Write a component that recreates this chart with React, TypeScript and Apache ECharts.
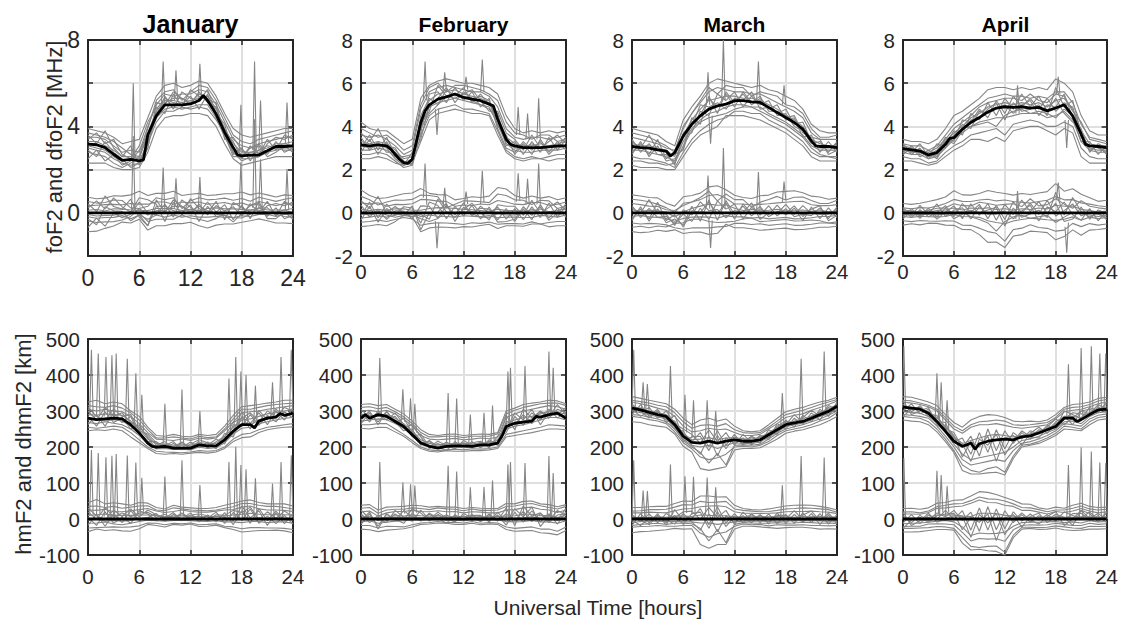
import React, { useEffect, useRef } from 'react';
import * as echarts from 'echarts';

// ---------- tick hours ----------
const HOURS = [0, 1, 2, 3, 4, 5, 6, 7, 8, 9, 10, 11, 12, 13, 14, 15, 16, 17, 18, 19, 20, 21, 22, 23, 24];
const MONTHS = ['January', 'February', 'March', 'April'];

// ---------- foF2 medians [hour, MHz] ----------
const janFoMed = [[0,3.18],[1,3.15],[2,3.02],[3,2.71],[4,2.43],[5,2.47],[6,2.4],[6.5,2.45],[7,3.6],[8,4.5],[9,5.0],[10,5.0],[11,5.0],[12,5.04],[13,5.2],[13.5,5.43],[14,5.2],[15,4.57],[16,3.72],[17,3.02],[17.5,2.68],[18,2.64],[19,2.67],[20,2.68],[21,2.87],[22,3.07],[23,3.07],[24,3.1]];
const febFoMed = [[0,3.14],[1,3.1],[2,3.14],[3,3.1],[3.5,2.94],[4,2.71],[4.5,2.48],[5,2.32],[5.5,2.29],[6,2.48],[6.5,3.33],[7,4.18],[7.5,4.72],[8,5.0],[9,5.26],[10,5.37],[11,5.5],[12,5.34],[13,5.26],[14,5.19],[15,5.03],[15.5,4.95],[16,4.33],[17,3.4],[17.5,3.17],[18,3.1],[19,3.02],[20,3.02],[21,3.02],[22,3.05],[23,3.1],[24,3.1]];
const marFoMed = [[0,3.07],[1,3.02],[2,2.99],[3,2.91],[4,2.86],[4.5,2.63],[5,2.79],[6,3.56],[7,4.1],[8,4.49],[9,4.8],[10,4.95],[11,5.03],[12,5.19],[13,5.19],[14,5.14],[15,5.11],[16,4.88],[17,4.64],[18,4.41],[19,4.18],[20,3.87],[21,3.33],[21.5,3.1],[22,3.07],[23,3.07],[24,3.02]];
const aprFoMed = [[0,2.97],[1,2.91],[2,2.86],[3,2.68],[4,2.79],[5,3.17],[5.5,3.44],[6,3.48],[7,3.87],[8,4.18],[9,4.41],[10,4.67],[11,4.85],[12,4.91],[13,4.88],[14,4.91],[15,4.85],[16,4.88],[17,4.72],[18,4.85],[19,5.0],[20,4.49],[21,3.64],[21.5,3.17],[22,3.1],[23,3.07],[24,3.02]];

// ---------- foF2 individual days (hourly, MHz) ----------
const janFoDays = [
  [3.9,3.8,3.7,3.5,3.2,3.3,3.4,4.4,5.4,5.9,6.0,5.8,5.9,6.1,6.0,5.4,4.6,3.9,3.6,3.5,3.6,3.7,3.8,3.9,3.9],
  [3.5,3.5,3.4,3.1,2.8,2.9,2.8,4.0,5.0,5.5,5.4,5.5,5.5,5.7,5.6,5.0,4.2,3.4,3.1,3.0,3.2,3.3,3.4,3.5,3.5],
  [3.0,2.9,2.8,2.5,2.3,2.2,2.3,3.3,4.4,4.8,4.9,4.8,4.9,5.0,5.0,4.4,3.5,2.8,2.5,2.5,2.6,2.8,2.9,3.0,3.0],
  [2.3,2.3,2.3,2.1,2.0,2.0,2.1,2.8,3.9,4.4,4.5,4.5,4.6,4.6,4.5,4.0,3.2,2.5,2.2,2.3,2.4,2.5,2.6,2.6,2.6],
  [3.3,3.3,3.1,2.9,2.6,2.6,2.5,3.7,4.7,5.2,5.2,5.1,5.2,5.3,5.4,4.8,3.9,3.2,2.8,2.8,2.9,3.0,3.2,3.2,3.3],
  [2.8,2.7,2.6,2.3,2.1,2.3,2.6,3.5,4.6,5.1,5.3,5.3,5.1,5.5,5.3,4.5,3.6,2.8,2.4,2.6,2.9,3.1,3.0,2.9,2.9],
  [3.7,3.6,3.5,3.3,3.0,2.7,2.6,3.9,5.2,5.6,5.7,5.2,5.6,5.9,5.8,5.2,4.4,3.6,3.3,3.2,3.4,3.5,3.6,3.7,3.8],
  [3.1,3.0,2.9,2.6,2.4,2.5,2.4,3.2,4.2,4.7,4.7,4.9,4.8,4.9,4.8,4.3,3.7,3.0,2.7,2.8,2.8,2.9,3.1,3.2,3.1],
  [3.6,3.2,3.8,3.0,2.6,3.1,2.2,3.0,5.1,5.0,5.6,5.3,5.0,5.6,5.1,4.9,3.8,3.3,2.5,3.1,2.7,3.4,2.9,3.6,3.4],
  [2.5,2.9,2.4,2.7,2.2,2.4,2.9,3.6,4.4,5.4,4.8,5.6,5.3,5.2,5.7,4.6,4.1,2.7,3.0,2.4,3.2,2.7,3.3,2.8,3.0],
  [3.4,3.7,3.2,3.4,2.7,2.5,3.1,4.2,4.9,4.6,5.5,4.9,5.7,5.4,5.2,5.1,3.4,3.5,2.9,2.7,2.6,3.2,3.5,3.4,3.6],
  [2.9,2.6,3.3,2.8,2.5,2.1,2.3,3.0,4.8,5.3,5.1,5.0,5.4,4.8,5.5,4.4,3.6,2.6,2.6,3.0,3.1,2.6,2.8,3.1,2.8],
];
const febFoDays = [
  [4.2,3.9,3.8,3.8,3.5,3.2,3.4,5.3,5.9,6.1,6.2,6.1,6.0,6.0,5.9,5.8,5.5,4.5,3.9,3.7,3.8,3.7,3.8,3.7,3.8],
  [3.6,3.5,3.6,3.4,3.1,2.7,2.9,4.8,5.6,5.8,5.9,5.8,5.7,5.6,5.6,5.4,4.9,3.9,3.5,3.4,3.5,3.5,3.4,3.5,3.6],
  [2.7,2.7,2.8,2.7,2.4,2.1,2.2,3.6,4.5,4.8,4.9,5.0,4.8,4.8,4.7,4.6,3.8,2.9,2.6,2.5,2.6,2.5,2.6,2.7,2.7],
  [2.5,2.5,2.6,2.5,2.3,2.2,2.3,3.3,4.3,4.6,4.7,4.8,4.7,4.6,4.6,4.5,3.6,2.8,2.5,2.4,2.5,2.5,2.4,2.5,2.5],
  [3.3,3.2,3.3,3.2,2.9,2.5,2.6,4.3,5.2,5.5,5.6,5.7,5.5,5.4,5.3,5.1,4.5,3.5,3.2,3.1,3.1,3.2,3.1,3.2,3.3],
  [2.9,2.9,3.0,2.9,2.6,2.3,2.5,4.0,4.9,5.1,5.2,5.3,5.2,5.1,5.0,4.9,4.1,3.2,2.9,2.8,2.8,2.9,2.9,2.9,3.0],
  [3.9,3.7,3.5,3.6,3.3,2.9,3.1,5.0,5.8,6.0,5.6,5.9,5.9,5.8,5.7,5.5,5.2,4.2,3.7,3.6,3.4,3.6,3.6,3.3,3.4],
  [3.1,3.0,3.2,3.0,2.5,2.2,2.4,3.9,4.6,5.0,5.4,5.5,5.4,5.2,5.0,4.8,4.3,3.3,3.0,3.0,3.2,3.0,3.1,3.0,3.1],
  [3.5,2.9,3.3,2.8,2.8,2.4,2.2,4.5,5.3,5.0,5.7,5.4,5.8,5.1,5.5,5.0,4.6,3.1,3.3,2.7,3.3,2.8,3.5,2.9,3.4],
  [2.8,3.4,2.7,3.3,2.6,2.6,2.7,3.7,5.5,5.6,5.1,5.8,5.2,5.6,4.9,5.3,4.0,3.6,2.7,3.2,2.7,3.4,2.8,3.3,2.9],
  [3.7,3.3,3.9,3.1,3.0,2.3,2.3,4.1,4.7,5.9,5.4,5.3,5.5,5.7,5.2,4.7,4.7,3.7,3.4,2.9,3.6,3.0,3.3,3.6,3.2],
  [3.0,3.6,2.9,3.5,2.7,2.2,2.8,3.4,5.0,5.3,5.8,5.1,5.6,5.3,5.4,5.2,3.9,3.0,2.8,3.3,2.9,3.3,2.7,3.1,3.5],
];
const marFoDays = [
  [3.9,3.8,3.7,3.6,3.3,3.1,4.3,4.9,5.4,6.0,6.2,6.1,6.0,5.9,5.8,5.9,5.7,5.6,5.4,5.2,4.8,4.1,3.8,3.7,3.7],
  [3.5,3.4,3.3,3.2,3.0,2.9,3.9,4.6,5.1,5.6,5.8,5.7,5.6,5.6,5.5,5.5,5.3,5.1,4.9,4.7,4.4,3.7,3.4,3.4,3.4],
  [2.6,2.5,2.5,2.4,2.3,2.1,2.8,3.4,3.8,4.1,4.3,4.4,4.7,4.7,4.6,4.6,4.3,4.1,3.9,3.6,3.3,2.8,2.6,2.6,2.5],
  [2.2,2.1,2.1,2.1,2.0,2.0,2.6,3.2,3.6,3.8,4.0,4.5,4.5,4.5,4.4,4.3,4.1,3.9,3.7,3.4,3.1,2.6,2.4,2.4,2.4],
  [3.2,3.1,3.1,3.0,2.9,2.6,3.6,4.3,4.8,5.2,5.3,5.4,5.4,5.3,5.3,5.2,5.0,4.8,4.5,4.3,4.0,3.4,3.2,3.1,3.1],
  [2.9,2.9,2.8,2.7,2.6,2.4,3.3,3.9,4.3,4.6,4.7,4.9,5.0,5.0,4.9,4.9,4.6,4.4,4.2,3.9,3.6,3.1,2.9,2.9,2.9],
  [3.7,3.6,3.5,3.3,3.1,2.8,4.0,4.6,5.2,5.8,5.5,5.9,5.8,5.8,5.4,5.6,5.5,5.4,5.0,4.9,4.6,3.9,3.5,3.5,3.6],
  [2.4,2.4,2.3,2.3,2.2,2.3,3.1,3.8,4.2,4.4,4.5,4.6,4.8,4.9,4.9,4.7,4.5,4.3,4.1,3.8,3.5,3.0,2.7,2.6,2.6],
  [3.4,2.8,3.2,2.7,2.7,2.3,3.5,3.7,4.7,4.5,5.5,5.2,5.6,4.9,5.4,5.0,5.2,4.5,4.6,4.0,3.8,3.2,3.3,2.8,3.3],
  [2.7,3.3,2.6,3.1,2.4,2.5,3.0,4.4,4.1,5.4,4.6,5.6,5.1,5.5,5.0,5.3,4.8,5.0,4.3,4.4,3.5,3.6,2.8,3.3,2.8],
  [3.3,3.0,3.6,2.9,2.8,2.2,3.7,4.0,5.0,4.9,5.1,4.8,5.3,5.2,5.6,4.8,4.9,4.6,4.8,4.1,4.2,3.3,3.0,3.0,3.2],
  [2.8,3.2,2.7,3.4,2.5,2.7,2.9,4.2,4.5,5.3,4.9,5.5,4.9,5.6,5.1,5.4,4.7,4.7,4.4,4.5,3.7,3.5,3.4,2.7,2.9],
];
const aprFoDays = [
  [3.4,3.3,3.3,3.2,3.4,3.9,4.5,4.7,5.0,5.3,5.7,5.8,5.8,5.7,5.8,5.7,5.8,5.7,6.2,6.0,5.6,4.5,3.8,3.6,3.6],
  [3.2,3.1,3.1,2.9,3.1,3.6,4.1,4.4,4.7,5.0,5.3,5.4,5.5,5.4,5.4,5.3,5.4,5.3,5.6,5.6,5.1,4.1,3.5,3.4,3.3],
  [2.6,2.5,2.5,2.3,2.4,2.8,3.1,3.3,3.6,3.7,3.8,3.9,3.6,4.1,4.2,4.3,4.2,4.0,4.0,4.2,4.0,3.0,2.6,2.5,2.5],
  [2.4,2.4,2.3,2.2,2.3,2.6,2.9,3.1,3.4,3.4,3.3,3.5,3.3,3.8,3.9,4.0,4.0,3.8,3.6,3.9,3.7,2.6,2.3,2.3,2.3],
  [3.0,2.9,2.9,2.7,2.9,3.3,3.7,4.0,4.4,4.6,4.9,5.0,5.1,5.0,5.1,5.0,5.1,4.9,5.2,5.3,4.8,3.8,3.2,3.1,3.1],
  [2.8,2.7,2.7,2.5,2.6,3.0,3.4,3.7,4.0,4.2,4.3,4.4,4.4,4.5,4.6,4.6,4.6,4.4,4.5,4.7,4.3,3.3,2.9,2.8,2.8],
  [3.1,3.0,2.9,2.8,3.0,3.4,3.9,4.2,4.5,4.9,5.1,5.2,5.3,5.3,5.2,5.5,5.2,5.1,5.5,5.4,4.7,4.2,3.4,3.3,3.2],
  [2.9,2.8,2.8,2.6,2.7,3.1,3.5,3.9,4.0,4.1,4.2,4.0,4.5,4.7,4.8,4.6,4.7,4.6,4.4,4.8,4.5,3.6,3.0,2.9,2.9],
  [3.1,2.7,3.0,2.5,2.8,3.5,3.3,4.3,4.2,4.8,4.4,5.2,4.6,5.4,4.9,5.3,4.8,5.3,4.7,5.1,4.9,3.5,3.1,3.0,2.8],
  [2.7,3.0,2.6,2.8,2.5,3.2,3.8,3.6,4.6,4.3,5.1,4.5,5.3,4.8,5.5,4.9,5.4,4.7,5.3,4.6,4.2,3.9,2.8,3.2,3.0],
  [3.2,2.8,3.2,2.6,3.2,3.0,3.6,4.1,3.9,4.7,4.6,4.8,5.0,4.6,5.0,5.2,4.5,5.0,4.9,5.5,4.4,3.3,3.3,2.7,3.1],
  [2.8,3.1,2.7,2.9,2.6,3.4,3.2,3.8,4.3,4.4,4.8,5.1,4.3,5.1,4.7,4.8,5.0,4.5,5.8,4.9,5.2,3.7,2.9,3.1,2.7],
];

// ---------- foF2 short excursions [hour, base, peak] ----------
const janFoSpikes = [[5.3,2.6,6.0],[8.8,5.0,7.0],[10.3,5.2,6.6],[13.1,5.3,6.9],[17.9,2.8,5.0],[19.5,2.9,7.0],[20.2,2.9,5.2],[23.3,3.2,5.1]];
const febFoSpikes = [[7.5,5.2,7.0],[8.9,4.8,3.6],[9.8,5.6,6.5],[12.3,5.7,6.3],[14.2,5.6,7.1],[18.4,3.6,4.9],[19.5,3.4,4.6],[20.8,3.4,5.3]];
const marFoSpikes = [[8.9,5.0,6.5],[9.2,4.5,3.2],[10.7,5.2,8.0],[14.8,5.3,7.0],[17.8,5.0,5.9]];
const aprFoSpikes = [[13.5,4.6,5.9],[18.3,5.5,6.3],[19.3,4.3,3.0]];

// ---------- hmF2 medians [hour, km] ----------
const janHmMed = [[0,280],[1,276],[2,278],[3,280],[4,278],[5,262],[6,239],[7,211],[7.5,202],[8,200],[9,202],[10,197],[11,197],[12,197],[13,206],[14,203],[15,203],[16,220],[17,244],[18,262],[19,262],[19.5,253],[20,272],[21,280],[22,283],[22.5,293],[23,288],[24,294]];
const febHmMed = [[0,280],[0.5,290],[1,280],[2,290],[3,285],[4,271],[5,257],[6,234],[7,211],[8,202],[9,197],[10,202],[11,203],[12,203],[13,202],[14,206],[15,206],[16,211],[16.5,230],[17,257],[18,266],[19,269],[20,272],[20.5,285],[21,283],[22,290],[23,294],[24,280]];
const marHmMed = [[0,308],[1,303],[2,296],[3,290],[4,285],[5,262],[6,230],[7,213],[8,211],[9,216],[10,211],[11,216],[12,220],[13,216],[14,216],[15,220],[16,234],[17,248],[18,262],[19,267],[20,271],[21,280],[22,290],[23,299],[24,313]];
const aprHmMed = [[0,311],[1,308],[2,305],[3,294],[4,271],[5,244],[6,216],[7,202],[7.5,206],[8,211],[8.5,194],[9,209],[10,216],[11,220],[12,222],[13,220],[14,228],[15,231],[16,239],[17,248],[18,257],[19,280],[20,280],[20.5,271],[21,276],[22,290],[23,303],[24,305]];

// ---------- hmF2 individual days (hourly, km) ----------
const janHmDays = [
  [325,330,320,325,320,300,285,255,232,230,235,230,228,235,232,235,258,288,312,315,318,322,325,330,330],
  [305,300,305,300,298,285,265,240,222,220,218,222,218,225,222,225,245,270,295,298,300,305,308,312,315],
  [255,252,255,258,255,240,220,200,188,186,185,184,186,190,188,190,200,222,235,238,248,255,258,262,265],
  [245,248,246,250,245,228,212,196,182,180,182,180,183,185,183,186,196,215,226,228,240,248,252,255,256],
  [290,288,292,290,288,272,250,222,210,208,205,206,205,212,210,210,228,255,275,278,285,292,295,300,305],
  [268,265,270,266,262,250,232,208,195,196,193,194,192,200,196,198,212,236,252,255,265,270,275,280,282],
  [315,312,310,315,308,295,275,248,225,225,228,225,222,230,226,228,250,278,305,305,310,315,318,320,322],
  [275,278,272,276,272,258,240,215,200,198,200,196,198,205,200,203,218,246,262,262,275,280,285,290,290],
  [300,275,310,285,295,268,255,230,205,215,195,212,200,215,198,215,230,268,280,295,270,300,285,310,300],
  [262,290,258,295,268,285,235,215,215,196,210,198,214,198,214,200,225,240,298,265,295,262,300,275,310],
  [285,258,298,268,282,250,262,225,195,208,200,214,195,208,205,222,208,262,258,290,260,288,270,298,280],
  [310,285,275,305,285,290,245,236,212,204,215,192,208,220,212,195,238,228,285,250,302,275,305,285,295],
];
const febHmDays = [
  [318,320,315,318,305,292,272,248,235,232,235,236,232,234,236,235,240,300,308,318,322,325,330,328,320],
  [300,302,298,302,292,278,258,232,222,220,222,224,220,222,225,223,228,282,292,300,305,310,315,312,305],
  [252,250,255,254,242,230,212,196,188,186,190,188,188,190,190,192,196,228,232,236,240,245,250,250,248],
  [262,262,265,265,250,235,218,200,192,190,192,194,192,195,194,196,200,235,240,245,250,255,262,260,258],
  [285,288,285,290,280,265,245,220,210,206,208,210,210,208,212,212,218,265,275,282,285,292,300,298,290],
  [272,275,278,276,265,252,232,208,200,196,200,200,198,200,202,204,208,250,258,262,268,275,282,282,275],
  [310,312,306,310,298,284,265,240,228,228,230,230,226,230,230,230,236,292,302,310,315,320,322,322,315],
  [290,282,292,288,275,260,240,215,205,202,205,206,204,205,208,208,212,258,268,272,278,285,290,290,285],
  [295,270,300,280,285,255,262,228,196,210,198,212,200,215,198,216,205,272,262,290,265,298,280,305,295],
  [265,295,270,300,268,280,240,210,215,198,214,200,212,198,214,200,222,240,285,260,295,275,305,280,300],
  [305,280,290,275,295,262,228,236,200,216,204,195,218,205,200,220,206,288,248,305,280,300,285,318,290],
  [275,300,262,298,270,245,250,205,218,200,190,215,198,212,216,198,230,248,295,275,305,262,298,290,310],
];
const marHmDays = [
  [340,335,330,325,320,305,280,262,275,280,272,278,258,245,242,245,262,280,298,305,310,318,325,330,338],
  [325,320,315,308,302,285,258,242,245,252,248,250,240,232,232,235,250,265,282,288,292,302,310,318,328],
  [285,282,276,272,265,242,212,195,172,165,170,180,200,202,200,205,215,232,245,250,255,262,272,280,295],
  [270,268,262,258,255,236,202,186,140,135,140,145,192,196,196,198,210,222,238,244,248,255,262,272,285],
  [312,308,300,296,290,270,238,220,222,226,220,225,226,222,222,226,240,255,268,272,278,286,296,305,318],
  [298,296,290,284,278,255,222,205,200,205,196,204,212,210,210,214,228,242,256,262,266,275,285,292,305],
  [330,326,322,316,312,295,270,252,260,262,258,265,248,240,238,240,255,272,290,296,302,310,318,325,332],
  [290,288,283,278,270,250,218,200,185,155,182,150,205,206,205,208,222,238,250,256,262,270,278,288,300],
  [320,295,310,280,300,265,250,235,210,248,215,240,205,235,212,232,220,265,250,280,262,295,275,310,300],
  [290,318,285,305,268,288,225,215,240,200,245,205,235,205,228,210,248,235,275,255,288,270,305,285,325],
  [305,285,300,290,282,248,245,205,180,230,175,225,210,225,205,230,235,250,262,290,268,285,298,295,310],
  [315,300,280,300,275,272,215,228,230,190,232,195,228,215,230,218,226,258,272,262,282,302,285,315,305],
];
const aprHmDays = [
  [340,338,332,325,315,290,268,255,275,285,290,288,282,272,270,272,270,275,290,310,318,320,325,335,338],
  [325,322,318,312,300,275,250,238,255,262,262,265,260,255,252,255,258,262,278,298,302,305,312,320,325],
  [285,282,280,270,250,222,190,150,135,130,140,145,130,175,205,208,215,225,238,258,255,250,270,282,285],
  [275,272,270,262,242,215,185,135,125,125,128,130,122,168,200,205,210,220,232,250,248,245,262,275,278],
  [312,310,305,298,282,255,228,210,218,225,232,235,232,228,232,236,244,252,262,285,285,282,296,305,312],
  [298,296,294,285,265,240,208,180,165,170,175,180,185,200,218,222,230,240,250,270,272,265,285,295,298],
  [330,328,322,316,305,282,258,245,262,270,272,275,272,262,260,262,265,268,282,305,310,312,318,328,332],
  [290,288,285,280,258,230,200,165,150,155,160,165,160,190,210,215,222,232,245,265,262,258,278,288,292],
  [320,298,315,290,288,250,240,198,230,175,250,190,245,210,240,222,248,245,270,285,262,300,292,318,305],
  [300,320,292,305,270,268,215,225,180,240,185,248,195,240,222,245,236,260,252,300,290,278,310,300,320],
  [285,305,310,285,280,258,232,172,215,200,230,160,225,232,205,238,255,238,265,278,295,292,288,312,295],
  [330,290,300,310,262,245,225,210,160,222,205,235,178,215,245,228,225,255,278,262,280,300,305,295,325],
];

// ---------- hmF2 short excursions [hour, base, peak] ----------
const janHmSpikes = [[0.4,290,470],[1.2,290,460],[2.1,285,450],[2.8,285,455],[3.3,280,460],[4.6,275,445],[5.6,260,405],[6.3,245,345],[9.0,210,320],[11.0,205,360],[13.1,210,300],[16.5,235,390],[17.3,250,450],[17.9,260,410],[18.5,265,400],[19.6,265,370],[21.6,285,380],[22.6,290,450],[23.8,295,470]];
const febHmSpikes = [[2.2,290,447],[4.9,270,360],[5.8,250,335],[6.3,240,320],[10.2,205,350],[11.2,205,335],[12.8,205,290],[14.4,208,295],[15.4,210,315],[17.2,260,410],[17.5,262,420],[19.2,270,425],[22.0,292,465],[22.5,292,420]];
const marHmSpikes = [[0.2,300,470],[1.3,305,380],[1.8,300,375],[4.5,280,425],[6.2,240,345],[7.2,225,330],[8.8,225,330],[9.8,222,300],[17.6,255,350],[19.8,275,445],[22.5,300,465]];
const aprHmSpikes = [[0.1,310,480],[4.0,280,405],[4.5,270,380],[5.2,250,330],[19.5,280,430],[21.0,278,475],[22.2,290,480],[23.2,303,460],[23.9,305,460]];

// ---------- axis ticks ----------
const X_TICKS = { min: 0, max: 24, interval: 6 };
const FO_TICKS = { min: -2, max: 8, interval: 2 };
const HM_TICKS = { min: -100, max: 500, interval: 100 };

const FONT = '"Liberation Sans", Arial, Helvetica, sans-serif';
const TXT = '#262626';
const GRAY = '#858585';
const GRAY_W = 1.1;
const LEFTS = [88, 361, 632, 903];
const TOPS = [40, 339];
const W = 205;
const H = 216;

type Pair = number[];

function medAt(med: Pair[], h: number): number {
  if (h <= med[0][0]) return med[0][1];
  for (let i = 1; i < med.length; i++) {
    if (h <= med[i][0]) {
      const [h0, v0] = med[i - 1];
      const [h1, v1] = med[i];
      return v0 + ((v1 - v0) * (h - h0)) / (h1 - h0);
    }
  }
  return med[med.length - 1][1];
}

const PANELS = [
  { med: janFoMed, days: janFoDays, spikes: janFoSpikes, row: 0, col: 0 },
  { med: febFoMed, days: febFoDays, spikes: febFoSpikes, row: 0, col: 1 },
  { med: marFoMed, days: marFoDays, spikes: marFoSpikes, row: 0, col: 2 },
  { med: aprFoMed, days: aprFoDays, spikes: aprFoSpikes, row: 0, col: 3 },
  { med: janHmMed, days: janHmDays, spikes: janHmSpikes, row: 1, col: 0 },
  { med: febHmMed, days: febHmDays, spikes: febHmSpikes, row: 1, col: 1 },
  { med: marHmMed, days: marHmDays, spikes: marHmSpikes, row: 1, col: 2 },
  { med: aprHmMed, days: aprHmDays, spikes: aprHmSpikes, row: 1, col: 3 },
];

function buildOption() {
  const grid: any[] = [];
  const xAxis: any[] = [];
  const yAxis: any[] = [];
  const series: any[] = [];

  PANELS.forEach((p, i) => {
    const isJanTop = p.row === 0 && p.col === 0;
    const yt = p.row === 0 ? FO_TICKS : HM_TICKS;
    grid.push({ left: LEFTS[p.col], top: TOPS[p.row], width: W, height: H, containLabel: false });
    const lineStyle = { color: TXT, width: 2 };
    const tick = { show: true, inside: true, length: 5, lineStyle: { color: TXT, width: 1.5 } };
    const split = { show: true, showMinLine: false, showMaxLine: false, lineStyle: { color: '#dfdfdf', width: 2 } };
    xAxis.push({
      gridIndex: i, type: 'value', ...X_TICKS, position: 'bottom',
      axisLine: { show: true, onZero: false, lineStyle },
      axisTick: tick,
      axisLabel: {
        color: TXT, fontFamily: FONT, fontSize: isJanTop ? 23 : 20.5,
        margin: p.row === 0 ? (isJanTop ? 10 : 5) : 11,
      },
      splitLine: split,
    });
    xAxis.push({
      gridIndex: i, type: 'value', ...X_TICKS, position: 'top',
      axisLine: { show: true, onZero: false, lineStyle },
      axisTick: tick, axisLabel: { show: false }, splitLine: { show: false },
    });
    yAxis.push({
      gridIndex: i, type: 'value', ...yt, position: 'left',
      axisLine: { show: true, onZero: false, lineStyle },
      axisTick: tick,
      axisLabel: {
        color: TXT, fontFamily: FONT, fontSize: isJanTop ? 23 : 20.5, margin: 8,
        formatter: isJanTop ? (v: number) => (v % 4 === 0 ? String(v) : '') : (v: number) => String(v),
      },
      splitLine: split,
    });
    yAxis.push({
      gridIndex: i, type: 'value', ...yt, position: 'right',
      axisLine: { show: true, onZero: false, lineStyle },
      axisTick: tick, axisLabel: { show: false }, splitLine: { show: false },
    });

    const xi = 2 * i;
    const yi = 2 * i;
    const mk = (data: Pair[], color: string, width: number, z: number) => ({
      type: 'line', xAxisIndex: xi, yAxisIndex: yi, data, symbol: 'none', silent: true,
      lineStyle: { color, width }, z, clip: true, animation: false,
    });

    p.days.forEach((d) => {
      series.push(mk(HOURS.map((h, k) => [h, d[k]]), GRAY, GRAY_W, 2));
      series.push(mk(HOURS.map((h, k) => [h, d[k] - medAt(p.med, h)]), GRAY, GRAY_W, 2));
    });
    p.spikes.forEach(([h, b, pk]) => {
      series.push(mk([[h - 0.2, b], [h, pk], [h + 0.2, b]], GRAY, GRAY_W, 2));
      series.push(mk([
        [h - 0.2, b - medAt(p.med, h - 0.2)],
        [h, pk - medAt(p.med, h)],
        [h + 0.2, b - medAt(p.med, h + 0.2)],
      ], GRAY, GRAY_W, 2));
    });
    series.push(mk(p.med.map(([h, v]) => [h, v]), '#000', 2.8, 5));
    series.push(mk(p.med.map(([h, v]) => [h, v - v]), '#000', 2.8, 5));
  });

  const graphic: any[] = [];
  MONTHS.forEach((m, c) => {
    graphic.push({
      type: 'text', x: LEFTS[c] + W / 2, y: 24, silent: true,
      style: {
        text: m, fill: '#000', font: `bold ${c === 0 ? 25 : 21}px ${FONT}`,
        align: 'center', verticalAlign: 'middle',
      },
    });
  });
  graphic.push({
    type: 'text', x: 54, y: 147, rotation: Math.PI / 2, silent: true,
    style: { text: 'foF2 and dfoF2 [MHz]', fill: TXT, font: `22px ${FONT}`, align: 'center', verticalAlign: 'middle' },
  });
  graphic.push({
    type: 'text', x: 23, y: 444, rotation: Math.PI / 2, silent: true,
    style: { text: 'hmF2 and dhmF2 [km]', fill: TXT, font: `22px ${FONT}`, align: 'center', verticalAlign: 'middle' },
  });
  graphic.push({
    type: 'text', x: 598, y: 607, silent: true,
    style: { text: 'Universal Time [hours]', fill: TXT, font: `21px ${FONT}`, align: 'center', verticalAlign: 'middle' },
  });

  return { animation: false, backgroundColor: '#fff', grid, xAxis, yAxis, series, graphic };
}

export default function App() {
  const ref = useRef<HTMLDivElement>(null);
  useEffect(() => {
    if (!ref.current) return;
    const chart = echarts.init(ref.current, undefined, { renderer: 'svg' });
    chart.setOption(buildOption() as any);
    return () => chart.dispose();
  }, []);
  return <div ref={ref} style={{ position: 'fixed', left: 0, top: 0, width: 1121, height: 622 }} />;
}
